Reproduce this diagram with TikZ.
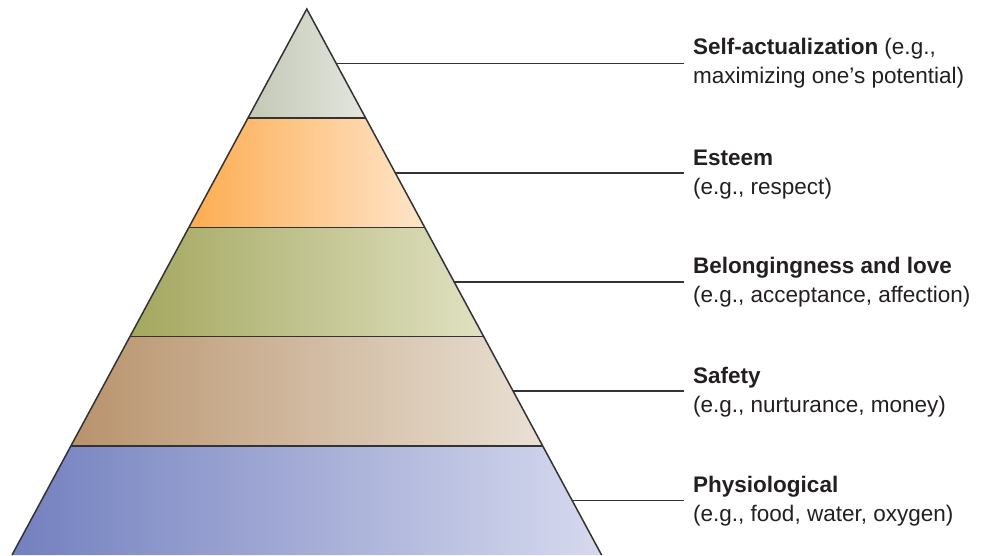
\documentclass[tikz,border=0pt]{standalone}
\usepackage{fontspec}
\setmainfont{Liberation Sans}
\usetikzlibrary{calc}

\definecolor{ink}{HTML}{231F20}
\definecolor{edge}{HTML}{333333}
% left / right ends of each tier's gradient
\definecolor{topL}{HTML}{C2C8B5}
\definecolor{topR}{HTML}{E4E6DF}
\definecolor{estL}{HTML}{FDAC50}
\definecolor{estR}{HTML}{FEE5CA}
\definecolor{belL}{HTML}{A3A75E}
\definecolor{belR}{HTML}{E0E1C2}
\definecolor{safL}{HTML}{B8936C}
\definecolor{safR}{HTML}{E9E0D4}
\definecolor{phyL}{HTML}{7380BF}
\definecolor{phyR}{HTML}{D6D9EE}

\begin{document}
\begin{tikzpicture}[x=1pt,y=-1pt,
  rim/.style={draw=edge, line width=1.5pt, line join=miter},
  leader/.style={draw=edge, line width=1.5pt},
  caption/.style={anchor=base west, inner sep=0pt, align=left, text=ink,
                  font=\fontsize{22.5}{29}\selectfont}]
\useasboundingbox (0,0) rectangle (981,555);

% outline of the pyramid
\coordinate (apex) at (306.8,9);
\coordinate (bl) at (12,555);
\coordinate (br) at (601.6,555);
\coordinate (gutter) at (684,0);

% tier boundaries (l/r) and tier middles on the right flank (m)
\foreach \i/\t in {1/0.2,2/0.4,3/0.6,4/0.8}{
  \coordinate (l\i) at ($(apex)!\t!(bl)$);
  \coordinate (r\i) at ($(apex)!\t!(br)$);
}
\foreach \i/\t in {1/0.1,2/0.3,3/0.5,4/0.7,5/0.9}{
  \coordinate (m\i) at ($(apex)!\t!(br)$);
  \coordinate (e\i) at (m\i -| gutter);
}

% tiers
\shade[left color=topL, right color=topR] (apex) -- (r1) -- (l1) -- cycle;
\shade[left color=estL, right color=estR] (l1) -- (r1) -- (r2) -- (l2) -- cycle;
\shade[left color=belL, right color=belR] (l2) -- (r2) -- (r3) -- (l3) -- cycle;
\shade[left color=safL, right color=safR] (l3) -- (r3) -- (r4) -- (l4) -- cycle;
\shade[left color=phyL, right color=phyR] (l4) -- (r4) -- (br) -- (bl) -- cycle;

% edges
\foreach \i in {1,2,3,4} \draw[rim] (l\i) -- (r\i);
\draw[rim] (bl) -- (apex) -- (br);

% leaders
\foreach \i in {1,...,5} \draw[leader] (m\i) -- (e\i);

% captions (anchored at the baseline of the second line)
\node[caption] (c1) at ($(e1)+(9,20)$) {\textbf{Self-actualization} (e.g.,\\maximizing one’s potential)};
\node[caption] (c2) at ($(e2)+(9,21.5)$) {\textbf{Esteem}\\(e.g., respect)};
\node[caption] (c3) at ($(e3)+(9,20.5)$) {\textbf{Belongingness and love}\\(e.g., acceptance, affection)};
\node[caption] (c4) at ($(e4)+(9,20.8)$) {\textbf{Safety}\\(e.g., nurturance, money)};
\node[caption] (c5) at ($(e5)+(9,21.5)$) {\textbf{Physiological}\\(e.g., food, water, oxygen)};
\end{tikzpicture}
\end{document}
